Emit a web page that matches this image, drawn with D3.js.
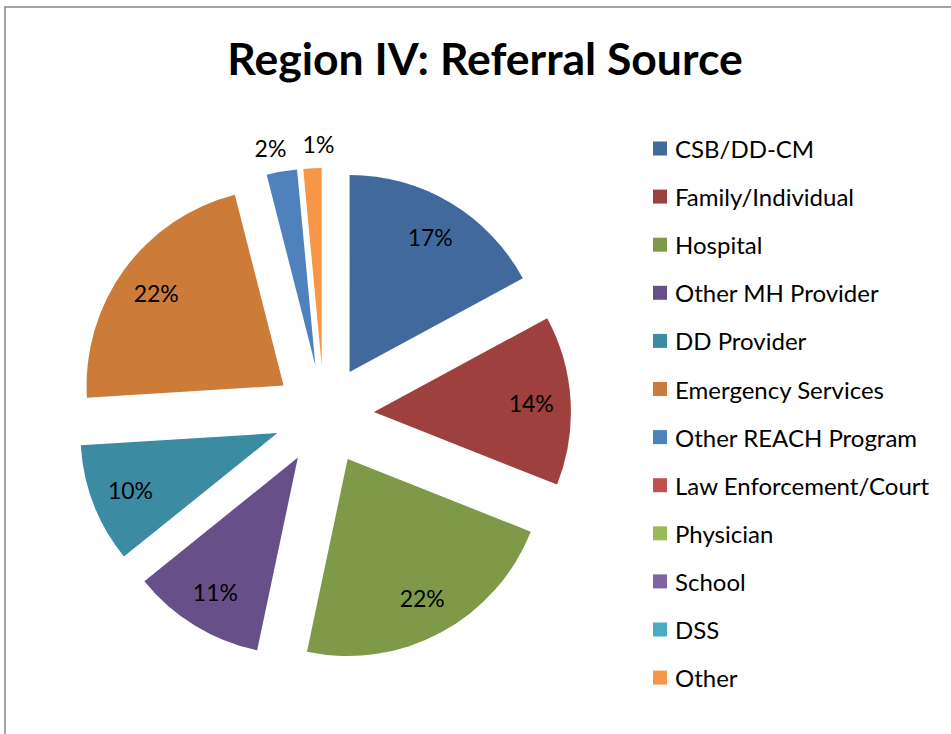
<!DOCTYPE html>
<html>
<head>
<meta charset="utf-8">
<script src="https://cdn.jsdelivr.net/npm/d3@7"></script>
<style>
  body { margin: 0; background: #fff; }
  svg { display: block; font-family: Lato, "Open Sans", sans-serif; }
</style>
</head>
<body>
<svg width="951" height="734"></svg>
<script>
// referral sources, in slice order (clockwise from 12 o'clock)
var categories = ["CSB/DD-CM", "Family/Individual", "Hospital", "Other MH Provider", "DD Provider",
  "Emergency Services", "Other REACH Program", "Law Enforcement/Court", "Physician", "School", "DSS", "Other"];
var values = [17.1, 13.9, 22.3, 10.9, 9.8, 22.0, 2.49, 0, 0, 0, 0, 1.49];
var colors = ["#41699c", "#9e403d", "#7e9a48", "#67508a", "#3b8ba3", "#cc7b38",
  "#4f81bd", "#c0504d", "#9bbb59", "#8064a2", "#4bacc6", "#f79646"];

var svg = d3.select("svg");

// chart border (cropped on right/bottom like the screenshot)
svg.append("path")
  .attr("d", "M5,734 L5,7 L951,7")
  .attr("fill", "none")
  .attr("stroke", "#868686")
  .attr("stroke-width", 1.5);

svg.append("text")
  .attr("x", 485)
  .attr("y", 75)
  .attr("text-anchor", "middle")
  .attr("font-size", 44.5)
  .attr("font-weight", "bold")
  .text("Region IV: Referral Source");

var cx = 324, cy = 415, radius = 197, explode = 50;
var total = d3.sum(values);
var pct = d3.format(".0%");

var pie = d3.pie().sort(null).value(function(d) { return d; });
var arc = d3.arc().innerRadius(0).outerRadius(radius);

var slices = pie(values);

function offset(d, r) {
  var a = (d.startAngle + d.endAngle) / 2;
  return [Math.sin(a) * r, -Math.cos(a) * r];
}

var g = svg.append("g").attr("transform", "translate(" + cx + "," + cy + ")");

var arcs = g.selectAll(".arc")
  .data(slices)
  .enter()
  .append("g")
  .attr("class", "arc")
  .attr("transform", function(d) { return "translate(" + offset(d, explode) + ")"; });

arcs.append("path")
  .attr("fill", function(d, i) { return colors[i]; })
  .attr("d", arc);

// percent labels: inside for big slices, outside end for tiny ones
var labels = slices.filter(function(d) { return d.value > 0; }).map(function(d) {
  var small = d.value / total < 0.03;
  var r = small ? radius + explode + 24 : explode + radius * 0.8;
  var p = offset(d, r);
  return { d: d, small: small, x: p[0], y: p[1] };
});

// push neighbouring outside labels apart so they don't touch
var outside = labels.filter(function(l) { return l.small; }).sort(function(a, b) { return a.x - b.x; });
var minGap = 48;
for (var i = 0; i < outside.length - 1; i++) {
  var gap = outside[i + 1].x - outside[i].x;
  if (gap < minGap) {
    outside[i].x -= (minGap - gap) / 2;
    outside[i + 1].x += (minGap - gap) / 2;
  }
}

g.selectAll(".lbl")
  .data(labels)
  .enter()
  .append("text")
  .attr("class", "lbl")
  .attr("x", function(l) { return l.x; })
  .attr("y", function(l) { return l.y; })
  .attr("text-anchor", "middle")
  .attr("dominant-baseline", "central")
  .attr("font-size", 23)
  .attr("fill", "#000")
  .text(function(l) { return pct(l.d.value / total); });

// legend
var legend = svg.append("g").attr("transform", "translate(653,148.5)");
var rows = legend.selectAll("g")
  .data(categories)
  .enter()
  .append("g")
  .attr("transform", function(d, i) { return "translate(0," + (i * 48.1) + ")"; });

rows.append("rect")
  .attr("x", 0)
  .attr("y", -7)
  .attr("width", 14)
  .attr("height", 14)
  .attr("fill", function(d, i) { return colors[i]; });

rows.append("text")
  .attr("x", 22)
  .attr("y", 0)
  .attr("dominant-baseline", "central")
  .attr("font-size", 24)
  .text(function(d) { return d; });
</script>
</body>
</html>
